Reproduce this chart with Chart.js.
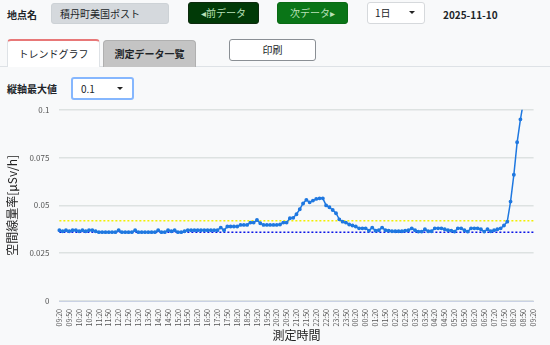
<!DOCTYPE html>
<html lang="ja">
<head>
<meta charset="utf-8">
<title>トレンドグラフ</title>
<script src="https://cdn.jsdelivr.net/npm/chart.js@4/dist/chart.umd.min.js"></script>
<style>
  html, body { margin: 0; padding: 0; }
  body {
    width: 550px; height: 345px; overflow: hidden; position: relative;
    background: #f8f9fa; color: #212529;
    font-family: "Noto Sans CJK JP", "Noto Sans", sans-serif; font-size: 10px;
  }
  .abs { position: absolute; box-sizing: border-box; }
  .lbl { font-weight: bold; }
  .input { background: #d5d9dd; border: 1px solid #cdd2d6; border-radius: 3px; padding-left: 8px; line-height: 19px; }
  .btn { border-radius: 3px; text-align: center; line-height: 20px; color: #b8e0b8; }
  .sel { background: #fff; border: 1px solid #d6d9dc; border-radius: 3px; padding-left: 7px; line-height: 19px; }
  .caret { position: absolute; right: 9px; top: 8px; width: 0; height: 0;
    border-left: 3px solid transparent; border-right: 3px solid transparent; border-top: 3px solid #222; }
  .tab { text-align: center; line-height: 26px; font-size: 10px; border-radius: 4px 4px 0 0; }
</style>
</head>
<body>
  <div class="abs lbl" style="left:7px;top:7px;">地点名</div>
  <div class="abs input" style="left:51px;top:3px;width:118px;height:21px;">積丹町美国ポスト</div>
  <div class="abs btn" style="left:188px;top:2px;width:71px;height:22px;background:#013a07;border:1px solid #0d2a0d;">◂前データ</div>
  <div class="abs btn" style="left:277px;top:2px;width:71px;height:22px;background:#0a7517;border:1px solid #0a6a14;">次データ▸</div>
  <div class="abs sel" style="left:367px;top:2px;width:58px;height:22px;">1日<span class="caret"></span></div>
  <div class="abs lbl" style="left:443px;top:7px;">2025-11-10</div>

  <div class="abs" style="left:0;top:66px;width:550px;height:1px;background:#dee2e6;"></div>
  <div class="abs tab" style="left:7px;top:39px;width:93px;height:28px;background:#fff;border:1px solid #dee2e6;border-top:2px solid #e87878;border-bottom:none;">トレンドグラフ</div>
  <div class="abs tab lbl" style="left:103px;top:40px;width:93px;height:27px;background:#c4c4c4;border:1px solid #b0b0b0;border-bottom:none;">測定データ一覧</div>
  <div class="abs" style="left:229px;top:39px;width:87px;height:22px;background:#fff;border:1px solid #8a8f94;border-radius:3px;text-align:center;line-height:20px;">印刷</div>

  <div class="abs lbl" style="left:7px;top:81px;">縦軸最大値</div>
  <div class="abs sel" style="left:71px;top:77px;width:63px;height:23px;border:2px solid #86b7fe;padding-left:8px;line-height:19px;">0.1<span class="caret" style="top:8px;"></span></div>

  <div class="abs" style="left:0;top:95px;width:550px;height:250px;">
    <canvas id="trend"></canvas>
  </div>

<script>
// 10分毎の測定値 09:20 → 翌09:20
const doseRate = [
  0.037, 0.0365, 0.037, 0.0365, 0.037, 0.037, 0.0365, 0.037, 0.0365, 0.037, 0.037, 0.0365,
  0.036, 0.036, 0.036, 0.036, 0.036, 0.036, 0.037, 0.036, 0.036, 0.036, 0.036, 0.037,
  0.036, 0.036, 0.036, 0.036, 0.036, 0.036, 0.037, 0.036, 0.036, 0.037, 0.0365, 0.037,
  0.036, 0.036, 0.0365, 0.037, 0.037, 0.037, 0.037, 0.037, 0.037, 0.037, 0.037, 0.037,
  0.037, 0.0384, 0.037, 0.039, 0.039, 0.039, 0.039, 0.0398, 0.0398, 0.0398, 0.041, 0.041,
  0.0424, 0.0407, 0.0398, 0.0398, 0.0398, 0.0398, 0.0398, 0.040, 0.041, 0.041, 0.0433, 0.0435,
  0.0454, 0.048, 0.051, 0.0529, 0.0516, 0.0525, 0.0534, 0.0537, 0.0537, 0.050, 0.049, 0.0476,
  0.0459, 0.0427, 0.0415, 0.041, 0.040, 0.0395, 0.039, 0.038, 0.038, 0.038, 0.0368, 0.0384,
  0.0368, 0.037, 0.0384, 0.037, 0.0368, 0.0365, 0.0365, 0.0365, 0.0365, 0.0368, 0.037, 0.038,
  0.037, 0.0363, 0.0363, 0.0375, 0.0365, 0.0365, 0.038, 0.038, 0.038, 0.0375, 0.037, 0.0368,
  0.0363, 0.038, 0.038, 0.037, 0.0363, 0.038, 0.038, 0.038, 0.0375, 0.0363, 0.0375, 0.0365,
  0.037, 0.0375, 0.038, 0.0395, 0.0415, 0.052, 0.066, 0.083, 0.095, 0.105, 0.115, 0.125,
  0.13
];
const upperLevel = 0.042;   // 黄色点線
const baseLevel = 0.036;    // 青点線
const yTicks = [0, 0.025, 0.05, 0.075, 0.1];
const startTime = "09:20";
const stepMinutes = 10;

function makeTimeLabels(start, count, step) {
  const [h, m] = start.split(":").map(Number);
  const out = [];
  for (let i = 0; i < count; i++) {
    const t = (h * 60 + m + i * step) % (24 * 60);
    out.push(String(Math.floor(t / 60)).padStart(2, "0") + ":" + String(t % 60).padStart(2, "0"));
  }
  return out;
}

const timeLabels = makeTimeLabels(startTime, doseRate.length, stepMinutes);
const font = "'Noto Sans CJK JP', 'Noto Sans', sans-serif";

new Chart(document.getElementById("trend"), {
  type: "line",
  data: {
    labels: timeLabels,
    datasets: [
      {
        label: "空間線量率",
        data: doseRate,
        borderColor: "#1f78e0",
        backgroundColor: "#1f78e0",
        borderWidth: 1.5,
        pointRadius: 1.2,
        pointHoverRadius: 2,
        tension: 0,
      },
      {
        label: "上限",
        data: timeLabels.map(() => upperLevel),
        borderColor: "#f2ee00",
        borderWidth: 1.5,
        borderDash: [2, 2],
        pointRadius: 0,
      },
      {
        label: "平常値",
        data: timeLabels.map(() => baseLevel),
        borderColor: "#0a14e6",
        borderWidth: 1.5,
        borderDash: [2, 2],
        pointRadius: 0,
      },
    ],
  },
  options: {
    responsive: true,
    maintainAspectRatio: false,
    animation: false,
    layout: { padding: { top: 4, right: 9, left: 3, bottom: 0 } },
    plugins: { legend: { display: false }, tooltip: { enabled: false } },
    scales: {
      x: {
        grid: { display: false, drawTicks: false },
        border: { color: "#c9d1e4" },
        afterFit(scale) {
          scale.height = 44;
        },
        ticks: {
          autoSkip: false,
          maxRotation: 90,
          minRotation: 90,
          color: "#555",
          font: { family: font, size: 7 },
          padding: 8,
          callback(value, index) {
            return index % 3 === 0 ? this.getLabelForValue(value) : null;
          },
        },
        title: { display: true, text: "測定時間", color: "#222", font: { family: font, size: 12 }, padding: { top: 0, bottom: 2 } },
      },
      y: {
        min: 0,
        max: 0.1,
        afterBuildTicks(axis) {
          axis.ticks = yTicks.map((v) => ({ value: v }));
        },
        grid: { color: "#dde2e1", lineWidth: 1.5, drawTicks: false },
        border: { display: false },
        ticks: {
          color: "#555",
          font: { family: font, size: 8 },
          padding: 10,
          callback: (v) => String(v),
        },
        title: { display: true, text: "空間線量率[μSv/h]", color: "#222", font: { family: font, size: 12 }, padding: { top: 2, bottom: 0 } },
      },
    },
  },
});
</script>
</body>
</html>
